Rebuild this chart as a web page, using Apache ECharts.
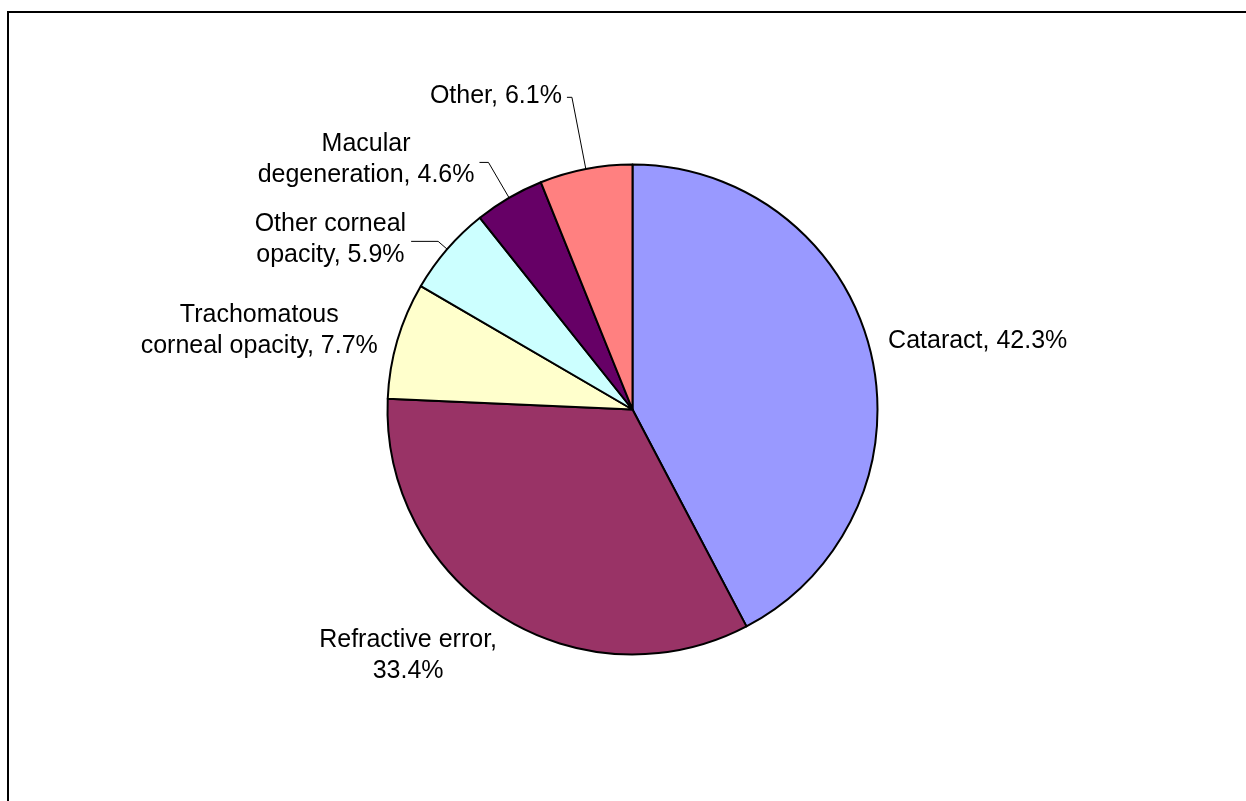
<!DOCTYPE html>
<html>
<head>
<meta charset="utf-8">
<script src="https://cdn.jsdelivr.net/npm/echarts@6/dist/echarts.min.js"></script>
<style>
html,body{margin:0;padding:0;background:#fff;}
#chart{width:1246px;height:801px;}
</style>
</head>
<body>
<div id="chart"></div>
<script>
// ---- data ----
var categories = ['Cataract', 'Refractive error', 'Trachomatous\ncorneal opacity', 'Other corneal\nopacity', 'Macular\ndegeneration', 'Other'];
var values = [42.3, 33.4, 7.7, 5.9, 4.6, 6.1];
var colors = ['#9999FF', '#993366', '#FFFFCC', '#CCFFFF', '#660066', '#FF8080'];
// label text separator between name and value (Refractive error wraps after the comma)
var separators = [' ', '\n', ' ', ' ', ' ', ' '];

// ---- label styling (leader lengths and fine offsets) ----
var leader = [
  {show: false, length: 10, length2: 3},
  {show: false, length: 47, length2: 0},
  {show: false, length: 10, length2: 5},
  {show: true, length: 12, length2: 27},
  {show: true, length: 41, length2: 9},
  {show: true, length: 73, length2: 5}
];
var nudge = [[0, -7], [26, 0], [0, -7], [0, -1.5], [0, -3], [0, -1]];

var chart = echarts.init(document.getElementById('chart'), null, {renderer: 'canvas'});

var seriesData = categories.map(function (c, i) {
  return {
    name: c,
    value: values[i],
    itemStyle: {color: colors[i]},
    label: {
      formatter: function () { return c + ',' + separators[i] + values[i].toFixed(1) + '%'; }
    },
    labelLine: {show: leader[i].show, length: leader[i].length, length2: leader[i].length2}
  };
});

chart.setOption({
  animation: false,
  backgroundColor: '#ffffff',
  graphic: [{
    type: 'polyline',
    shape: {points: [[8, 830], [8, 12], [1270, 12]]},
    style: {stroke: '#000', lineWidth: 2, fill: null},
    silent: true
  }],
  series: [{
    type: 'pie',
    center: [632.5, 409.5],
    radius: 245,
    startAngle: 90,
    clockwise: true,
    avoidLabelOverlap: false,
    emphasis: {disabled: true},
    itemStyle: {borderColor: '#000', borderWidth: 2},
    label: {
      show: true,
      position: 'outside',
      color: '#000',
      fontFamily: '"Liberation Sans", Arial, sans-serif',
      fontSize: 25,
      lineHeight: 31
    },
    labelLine: {lineStyle: {color: '#000', width: 1}},
    labelLayout: function (p) {
      var r = p.labelRect;
      var n = nudge[p.dataIndex];
      var out = {
        x: r.x + r.width / 2 + n[0],
        y: r.y + r.height / 2 + n[1],
        align: 'center',
        verticalAlign: 'middle'
      };
      if (p.labelLinePoints) out.labelLinePoints = p.labelLinePoints;
      return out;
    },
    data: seriesData
  }]
});
</script>
</body>
</html>
